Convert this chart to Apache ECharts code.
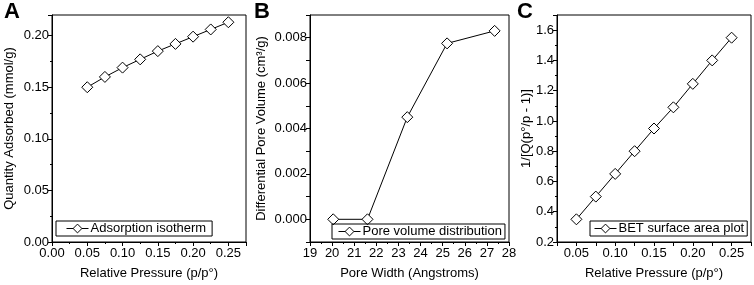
<!DOCTYPE html>
<html><head><meta charset="utf-8">
<script src="https://cdn.jsdelivr.net/npm/echarts@6/dist/echarts.min.js"></script>
<style>html,body{margin:0;padding:0;background:#fff}#c{width:754px;height:285px}</style>
</head><body><div id="c"></div>
<script>
// Panel A: adsorption isotherm
const aPressure = [0.05, 0.075, 0.1, 0.125, 0.15, 0.175, 0.2, 0.225, 0.25];
const aQuantity = [0.150, 0.160, 0.169, 0.177, 0.185, 0.192, 0.199, 0.206, 0.213];
// Panel B: pore volume distribution
const bWidth = [20.05, 21.6, 23.4, 25.2, 27.35];
const bVolume = [0, 0, 0.0045, 0.00775, 0.0083];
// Panel C: BET surface area plot
const cPressure = [0.05, 0.075, 0.1, 0.125, 0.15, 0.175, 0.2, 0.225, 0.25];
const cBet = [0.35, 0.50, 0.65, 0.80, 0.95, 1.09, 1.245, 1.40, 1.55];

const seriesNames = ['Adsorption isotherm', 'Pore volume distribution', 'BET surface area plot'];
const panelLetters = ['A', 'B', 'C'];
const xTitles = ['Relative Pressure (p/p°)', 'Pore Width (Angstroms)', 'Relative Pressure (p/p°)'];
const yTitles = ['Quantity Adsorbed (mmol/g)', 'Differential Pore Volume (cm³/g)', '1/[Q(p°/p - 1)]'];

const FONT = 'Liberation Sans';
const fs = 13;
const txt = {color: '#000', fontFamily: FONT, fontSize: fs};

function xAxis(i, min, max, interval, fmt, minor, nameGap) {
  return {
    type: 'value', gridIndex: i, min, max, interval,
    name: xTitles[i], nameLocation: 'middle', nameGap: nameGap, nameMoveOverlap: false,
    nameTextStyle: {color: '#000', fontFamily: FONT, fontSize: fs},
    axisLine: {show: true, onZero: false, lineStyle: {color: '#000', width: 1}},
    axisTick: {show: true, length: 4, lineStyle: {color: '#000'}},
    minorTick: {show: minor, splitNumber: 2, length: 2, lineStyle: {color: '#000'}},
    splitLine: {show: false},
    axisLabel: Object.assign({margin: 5, formatter: fmt, hideOverlap: false}, txt)
  };
}
function yAxis(i, min, max, interval, fmt, minor, nameGap) {
  return {
    type: 'value', gridIndex: i, min, max, interval,
    name: yTitles[i], nameLocation: 'middle', nameGap: nameGap, nameRotate: 90, nameMoveOverlap: false,
    nameTextStyle: {color: '#000', fontFamily: FONT, fontSize: fs},
    axisLine: {show: true, onZero: false, lineStyle: {color: '#000', width: 1}},
    axisTick: {show: true, length: 4, lineStyle: {color: '#000'}},
    minorTick: {show: minor, splitNumber: 2, length: 2, lineStyle: {color: '#000'}},
    splitLine: {show: false},
    axisLabel: Object.assign({margin: 3, formatter: fmt}, txt)
  };
}
function series(i, xs, ys) {
  return {
    name: seriesNames[i], type: 'line', xAxisIndex: i, yAxisIndex: i,
    data: xs.map((x, k) => [x, ys[k]]),
    symbol: 'diamond', symbolSize: 11, showAllSymbol: true,
    lineStyle: {color: '#000', width: 1},
    itemStyle: {color: '#fff', borderColor: '#000', borderWidth: 1},
    emphasis: {disabled: true}, animation: false, z: 3
  };
}
function legend(i, left, top, padL, padR) {
  return {
    data: [seriesNames[i]], left, top, orient: 'horizontal',
    borderColor: '#000', borderWidth: 1, padding: [1, padR, 1, padL],
    itemWidth: 22, itemHeight: 11, itemGap: 2,
    itemStyle: {color: '#fff', borderColor: '#000', borderWidth: 1},
    lineStyle: {color: '#000', width: 1},
    textStyle: Object.assign({padding: [0, 0, 0, -3]}, txt),
    selectedMode: false
  };
}
const near = (a, b) => Math.abs(a - b) < 1e-9;

const chart = echarts.init(document.getElementById('c'), null, {renderer: 'canvas'});
chart.setOption({
  animation: false,
  backgroundColor: '#fff',
  grid: [
    {left: 52, top: 15, width: 194, height: 228, show: true, borderColor: '#000', borderWidth: 1},
    {left: 310, top: 15, width: 199, height: 228, show: true, borderColor: '#000', borderWidth: 1},
    {left: 557, top: 15, width: 195, height: 228, show: true, borderColor: '#000', borderWidth: 1}
  ],
  xAxis: [
    xAxis(0, 0, 0.275, 0.05, v => (near(v, 0.275) ? '' : v.toFixed(2)), true, 25),
    xAxis(1, 19, 28, 1, v => String(Math.round(v)), true, 25),
    xAxis(2, 0.025, 0.275, 0.025, v => (Math.round(v * 1000) % 50 === 0 ? v.toFixed(2) : ''), false, 25)
  ],
  yAxis: [
    yAxis(0, 0, 0.22, 0.05, v => (near(v, 0.22) ? '' : v.toFixed(2)), true, 36),
    yAxis(1, -0.001, 0.009, 0.001, v => (Math.round(v * 1000) % 2 === 0 ? v.toFixed(3) : ''), false, 42),
    yAxis(2, 0.2, 1.7, 0.2, v => (near(v, 1.7) ? '' : v.toFixed(1)), true, 24)
  ],
  legend: [legend(0, 56, 221, 10, 6), legend(1, 332, 224, 6, 3), legend(2, 590, 221, 4, 3)],
  series: [series(0, aPressure, aQuantity), series(1, bWidth, bVolume), series(2, cPressure, cBet)],
  graphic: panelLetters.map((t, i) => ({
    type: 'text', left: [4, 254, 517][i], top: 1,
    style: {text: t, fill: '#000', font: 'bold 22px "Liberation Sans"'}
  }))
});
</script></body></html>
